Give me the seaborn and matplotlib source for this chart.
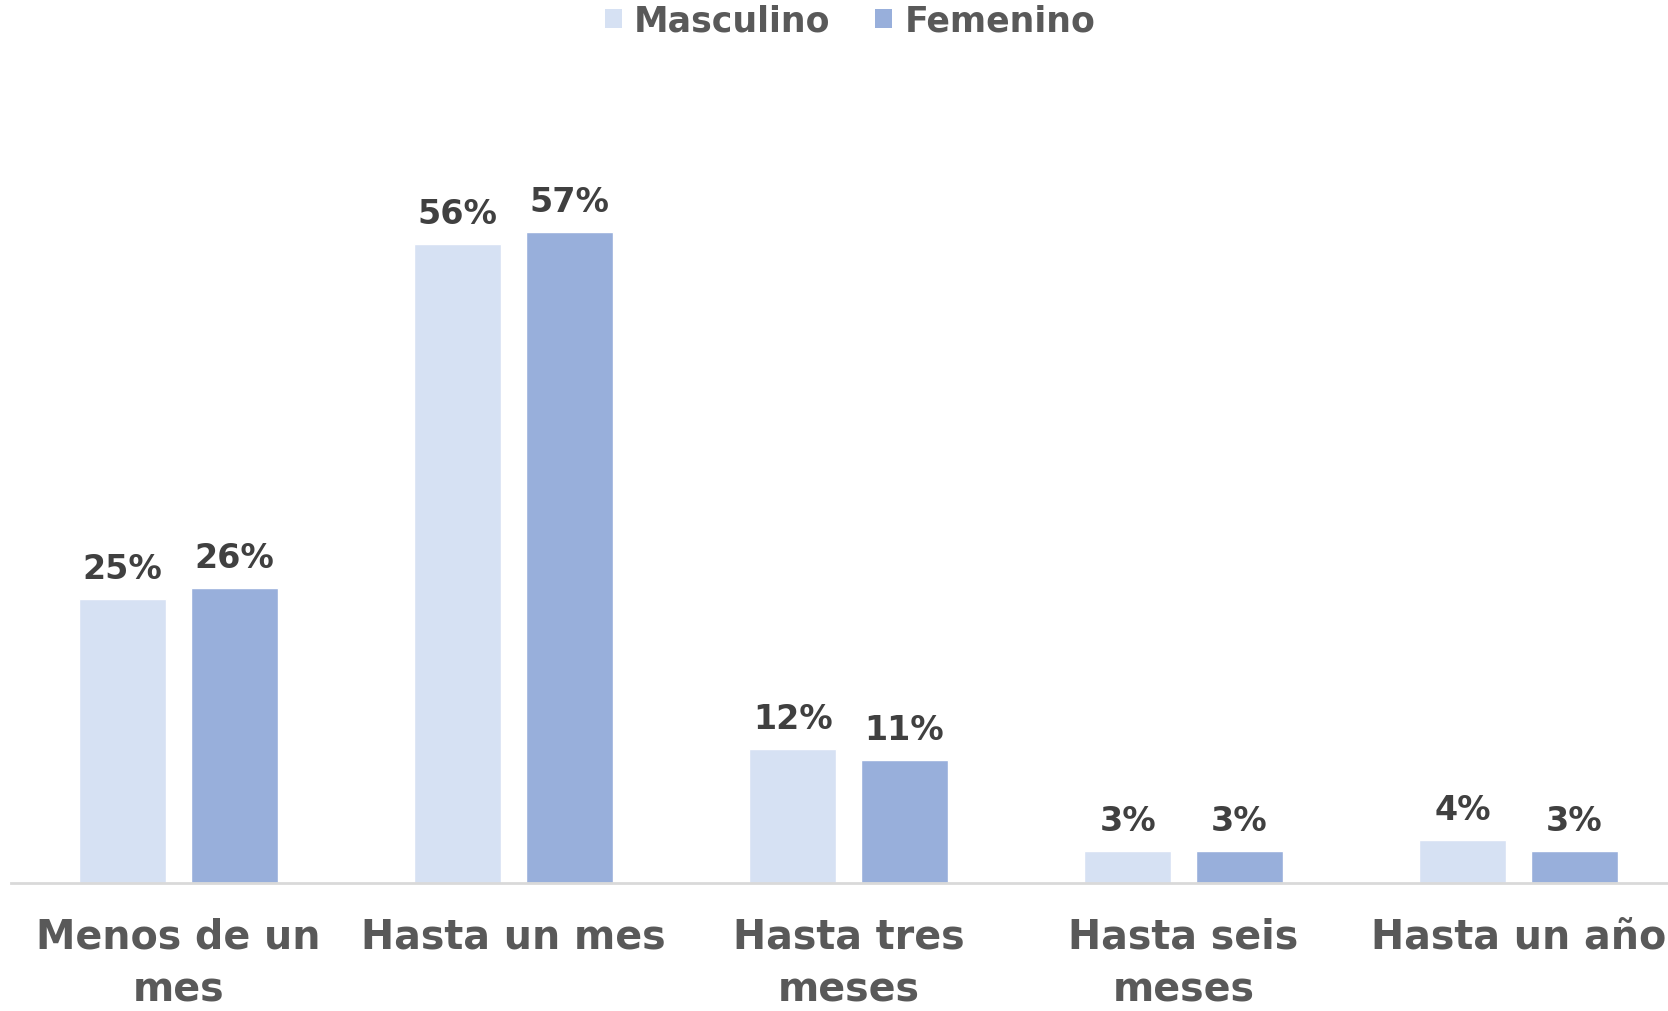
import matplotlib
matplotlib.use("Agg")
import matplotlib.pyplot as plt
from matplotlib.patches import Patch
import seaborn as sns
import pandas as pd

categories = ["Menos de un\nmes", "Hasta un mes", "Hasta tres\nmeses", "Hasta seis\nmeses", "Hasta un año"]
series_names = ["Masculino", "Femenino"]
masculino = [24.9, 56.1, 11.8, 2.8, 3.8]
femenino = [25.9, 57.1, 10.8, 2.8, 2.8]
colors = ["#D6E1F3", "#98AFDB"]

df = pd.DataFrame({
    "cat": categories * 2,
    "sexo": [series_names[0]] * len(categories) + [series_names[1]] * len(categories),
    "val": masculino + femenino,
})

sns.set_style("white")
plt.rcParams["font.family"] = ["DejaVu Sans"]

W, H = 1668, 1012
fig = plt.figure(figsize=(W / 100, H / 100), dpi=100)
ax_left = 11 / W
ax_bottom = (H - 884) / H
ax_top = 60 / H
ax = fig.add_axes([ax_left, ax_bottom, 1675 / W, 1 - ax_bottom - ax_top])

sns.barplot(data=df, x="cat", y="val", hue="sexo", palette=colors,
            width=0.666, gap=0.22, ax=ax, legend=False, saturation=1)

ax.set_xlim(-0.5, 4.5)
ax.set_ylim(0, 72.3)
for c in ax.containers:
    ax.bar_label(c, labels=[f"{v:.0f}%" for v in c.datavalues], padding=10,
                 fontsize=24, fontweight="bold", color="#404040")

ax.set_xlabel("")
ax.set_ylabel("")
ax.set_yticks([])
ax.tick_params(axis="x", length=0, pad=24, labelsize=28.5, labelcolor="#595959")
for t in ax.get_xticklabels():
    t.set_fontweight("bold")
    t.set_linespacing(1.42)
    t.set_verticalalignment("top")

for s in ["left", "right", "top"]:
    ax.spines[s].set_visible(False)
ax.spines["bottom"].set_color("#D9D9D9")
ax.spines["bottom"].set_linewidth(2)

handles = [Patch(facecolor=colors[i], edgecolor="none", label=series_names[i]) for i in range(2)]
leg = fig.legend(handles=handles, loc="center", bbox_to_anchor=(850 / W, 1 - 22 / H),
                 ncol=2, frameon=False, handlelength=0.49, handleheight=0.49,
                 handletextpad=0.35, columnspacing=1.3,
                 prop={"size": 25, "weight": "bold"})
for t in leg.get_texts():
    t.set_color("#595959")

fig.savefig("out.png", dpi=100)
